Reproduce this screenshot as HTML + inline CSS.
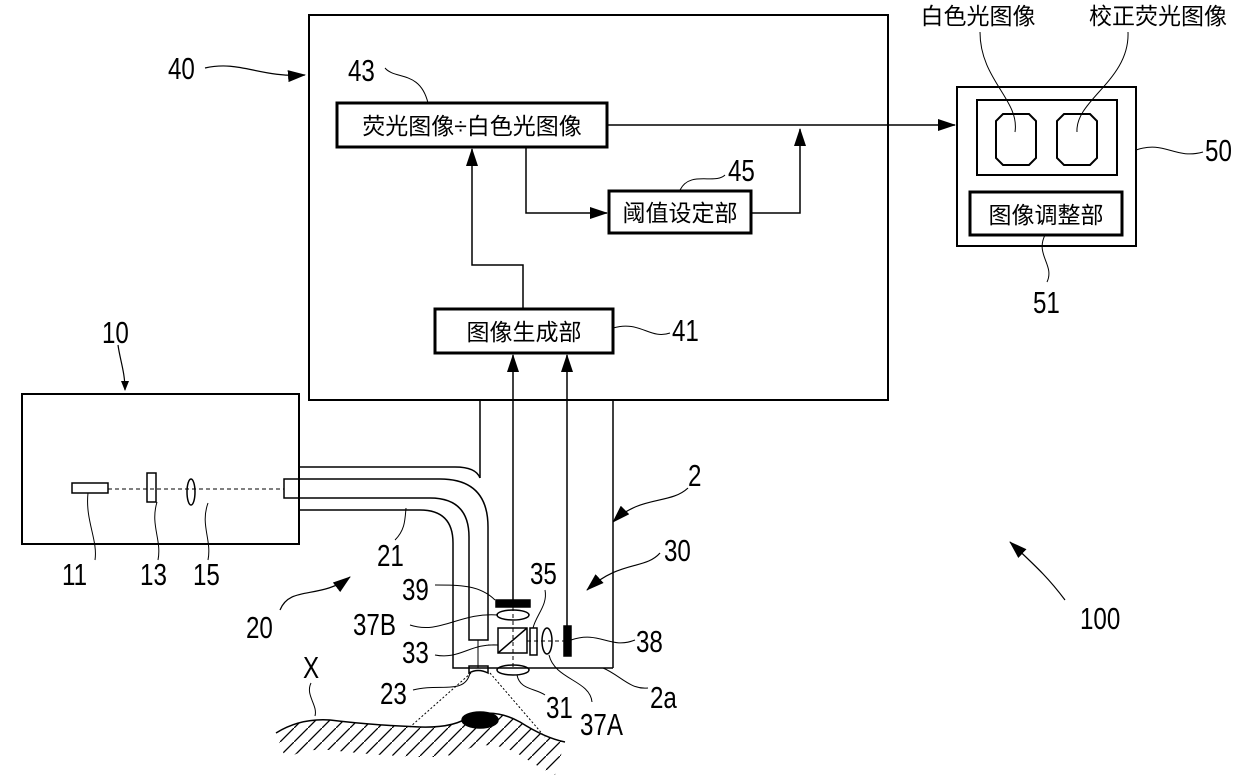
<!DOCTYPE html>
<html><head><meta charset="utf-8"><style>
html,body{margin:0;padding:0;background:#fff;}
svg{display:block;}
text{font-family:"Liberation Sans","Noto Sans CJK SC",sans-serif;fill:#000;}
.n text{font-size:31px;transform-box:fill-box;transform-origin:0 100%;transform:scaleX(0.78);}
.c{font-size:23px;}
</style></head><body>
<svg width="1240" height="775" viewBox="0 0 1240 775" xmlns="http://www.w3.org/2000/svg">
<defs>
<marker id="a" markerWidth="10" markerHeight="8" refX="9" refY="4" orient="auto" markerUnits="userSpaceOnUse"><path d="M0,0 L10,4 L0,8 Z" fill="#000"/></marker>
<marker id="b" markerWidth="18" markerHeight="12" refX="17" refY="6" orient="auto" markerUnits="userSpaceOnUse"><path d="M0,0 L18,6 L0,12 Z" fill="#000"/></marker>
<pattern id="h" width="14" height="14" patternUnits="userSpaceOnUse"><path d="M0,14 L14,0" stroke="#000" stroke-width="1.3"/></pattern>
</defs>
<g fill="none" stroke="#000" stroke-width="1.5">
<rect x="309" y="15" width="579" height="385" stroke-width="2"/>
<rect x="337" y="103" width="270" height="44" stroke-width="3"/>
<rect x="609" y="191" width="142" height="42" stroke-width="3"/>
<rect x="435" y="309" width="178" height="44" stroke-width="3"/>
<path d="M607,125 H955" marker-end="url(#b)"/>
<path d="M526,147 V213 H607" marker-end="url(#b)"/>
<path d="M751,213 H800 V129" marker-end="url(#b)"/>
<path d="M523,309 V265 H472 V149" marker-end="url(#b)"/>
<path d="M513,600 V355" marker-end="url(#b)"/>
<path d="M567,626 V355" marker-end="url(#b)"/>
<rect x="957" y="87" width="179" height="159" stroke-width="2"/>
<rect x="977" y="100" width="140" height="75" stroke-width="2"/>
<path d="M1003,114 H1029 L1036,121 V158 L1029,165 H1003 L996,158 V121 Z" stroke-width="2"/>
<path d="M1064,114 H1090 L1097,121 V158 L1090,165 H1064 L1057,158 V121 Z" stroke-width="2"/>
<rect x="970" y="192" width="152" height="43" stroke-width="3"/>
<rect x="22" y="394" width="277" height="150" stroke-width="2"/>
<rect x="72" y="483" width="36" height="10"/>
<rect x="147" y="473" width="9" height="29"/>
<ellipse cx="191" cy="492" rx="4" ry="13"/>
<path d="M108,489 H284" stroke-dasharray="4,3" stroke-width="1"/>
<path d="M480,400 V478"/>
<path d="M613,400 V668"/>
<path d="M300,467 H455 Q476,467 480,478"/>
<path d="M284,479 H440 Q488,479 488,527 V640 H469 V537 Q469,498 430,498 H284 Z"/>
<path d="M300,510 H420 Q453,510 453,543 V668 H613"/>
<path d="M478,640 V668" stroke-width="1"/>
<rect x="496" y="600" width="34" height="7" fill="#000"/>
<ellipse cx="513" cy="615" rx="16" ry="5"/>
<rect x="498" y="628" width="29" height="25"/>
<path d="M498,653 L527,628"/>
<path d="M488,645 H498" stroke-width="1"/>
<rect x="530" y="628" width="7" height="27"/>
<ellipse cx="547" cy="641" rx="5" ry="13"/>
<rect x="564" y="626" width="7" height="30" fill="#000"/>
<ellipse cx="513" cy="670" rx="16" ry="5"/>
<path d="M469,666 H488 V673 Q478,668 469,673 Z"/>
<path d="M513,607 V668 M527,641 H564" stroke-dasharray="4,3" stroke-width="1"/>
<path d="M471,673 L410,727 M490,673 L545,737" stroke-dasharray="2,2" stroke-width="1"/>
<path d="M276,733 Q300,718 330,720 Q370,725 420,727 Q455,728 470,716 Q495,708 520,722 Q545,738 565,742 L555,775 Q540,768 520,755 Q495,740 470,748 Q455,758 420,757 Q370,755 330,750 Q300,748 286,760 Z" fill="url(#h)" stroke="none"/>
<path d="M276,733 Q300,718 330,720 Q370,725 420,727 Q455,728 470,716 Q495,708 520,722 Q545,738 565,742"/>
<ellipse cx="480" cy="720" rx="18" ry="8" fill="#000"/>
<path d="M205,68 C240,60 260,78 305,75" marker-end="url(#b)" stroke-width="1.2"/>
<path d="M385,68 C395,80 420,70 428,103" stroke-width="1"/>
<path d="M680,190 C690,170 715,185 725,175" stroke-width="1"/>
<path d="M613,328 C640,320 650,340 670,333" stroke-width="1"/>
<path d="M980,32 C980,80 1020,100 1015,132" stroke-width="1"/>
<path d="M1128,32 C1130,80 1075,100 1077,132" stroke-width="1"/>
<path d="M1136,150 C1165,140 1175,160 1203,152" stroke-width="1"/>
<path d="M1045,235 C1035,255 1055,265 1047,282" stroke-width="1"/>
<path d="M118,345 C120,360 125,372 125,390" marker-end="url(#a)" stroke-width="1.2"/>
<path d="M88,493 C85,520 98,540 95,560" stroke-width="1"/>
<path d="M157,502 C150,525 162,540 158,560" stroke-width="1"/>
<path d="M208,503 C200,525 212,540 208,560" stroke-width="1"/>
<path d="M395,540 C405,530 405,520 406,508" stroke-width="1"/>
<path d="M280,610 C290,585 320,600 350,577" marker-end="url(#b)" stroke-width="1.2"/>
<path d="M688,488 C670,505 640,495 613,522" marker-end="url(#b)" stroke-width="1.2"/>
<path d="M660,553 C645,570 620,560 587,590" marker-end="url(#b)" stroke-width="1.2"/>
<path d="M1065,600 C1050,580 1040,570 1010,542" marker-end="url(#b)" stroke-width="1.2"/>
<path d="M435,585 C460,585 480,585 495,600" stroke-width="1"/>
<path d="M410,625 C440,635 460,612 498,615" stroke-width="1"/>
<path d="M435,655 C460,660 470,643 498,645" stroke-width="1"/>
<path d="M413,690 C440,683 465,695 470,673" stroke-width="1"/>
<path d="M545,590 C548,605 536,615 533,628" stroke-width="1"/>
<path d="M571,640 C600,630 610,650 635,640" stroke-width="1"/>
<path d="M517,675 C520,690 535,688 545,695" stroke-width="1"/>
<path d="M549,655 C555,680 590,680 592,702" stroke-width="1"/>
<path d="M603,668 C620,675 630,690 648,688" stroke-width="1"/>
<path d="M311,683 C305,695 318,705 315,716" stroke-width="1"/>
</g>
<text x="472" y="134" class="c" text-anchor="middle">荧光图像÷白色光图像</text>
<text x="680" y="221" class="c" text-anchor="middle">阈值设定部</text>
<text x="524" y="340" class="c" text-anchor="middle">图像生成部</text>
<text x="1046" y="223" class="c" text-anchor="middle">图像调整部</text>
<text x="978" y="24" class="c" text-anchor="middle" font-size="24">白色光图像</text>
<text x="1158" y="24" class="c" text-anchor="middle" font-size="24">校正荧光图像</text>
<g class="n">
<text x="168" y="79">40</text>
<text x="348" y="81">43</text>
<text x="728" y="181">45</text>
<text x="672" y="341">41</text>
<text x="1205" y="161">50</text>
<text x="1033" y="313">51</text>
<text x="102" y="343">10</text>
<text x="62" y="585">11</text>
<text x="140" y="585">13</text>
<text x="193" y="585">15</text>
<text x="377" y="566">21</text>
<text x="246" y="638">20</text>
<text x="688" y="486">2</text>
<text x="664" y="561">30</text>
<text x="1080" y="629">100</text>
<text x="402" y="600">39</text>
<text x="353" y="635">37B</text>
<text x="402" y="663">33</text>
<text x="380" y="704">23</text>
<text x="530" y="584">35</text>
<text x="636" y="652">38</text>
<text x="546" y="718">31</text>
<text x="580" y="735">37A</text>
<text x="650" y="708">2a</text>
<text x="303" y="678">X</text>
</g>
</svg>
</body></html>
